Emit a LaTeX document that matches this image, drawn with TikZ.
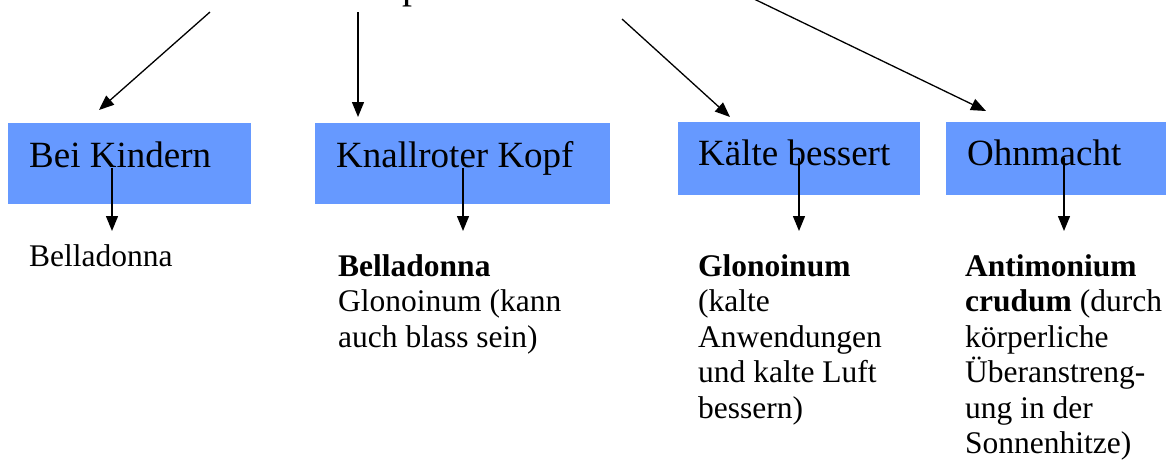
\documentclass[tikz,border=0pt]{standalone}
\usepackage{fontspec}
\setmainfont{Liberation Serif}
\usetikzlibrary{arrows.meta}
\definecolor{boxblue}{HTML}{6699FF}
\tikzset{
  box/.style={fill=boxblue, draw=none, anchor=north west, inner sep=0pt},
  boxtext/.style={anchor=base west, inner sep=0pt, font=\fontsize{37}{42}\selectfont},
  remedy/.style={anchor=base west, inner sep=0pt, align=left, font=\fontsize{31.5}{35.5}\selectfont},
  arr/.style={line width=1.3pt, -{Triangle[length=15pt,width=12pt]}},
}
\begin{document}
\begin{tikzpicture}[x=1pt,y=-1pt]
\useasboundingbox (0,0) rectangle (1176,464);
% partially visible title
\node[anchor=base west, inner sep=0pt, font=\fontsize{40}{44}\selectfont] (title) at (402,-2) {p};
% boxes
\node[box, minimum width=243pt, minimum height=81pt] (b1) at (8,123) {};
\node[box, minimum width=295pt, minimum height=81pt] (b2) at (315,123) {};
\node[box, minimum width=242pt, minimum height=73pt] (b3) at (678,122) {};
\node[box, minimum width=220pt, minimum height=73pt] (b4) at (946,122) {};
\node[boxtext] (t1) at (29,167) {Bei Kindern};
\node[boxtext] (t2) at (336,167) {Knallroter Kopf};
\node[boxtext] (t3) at (698,165) {Kälte bessert};
\node[boxtext] (t4) at (967,165) {Ohnmacht};
% top arrows
\coordinate (s1) at (210,12);
\coordinate (e1) at (99,110);
\coordinate (s2) at (358,12);
\coordinate (e2) at (358,117);
\coordinate (s3) at (622,19);
\coordinate (e3) at (730,117);
\coordinate (s4) at (752,-2);
\coordinate (e4) at (986,111);
\draw[arr] (s1) -- (e1);
\draw[arr] (s2) -- (e2);
\draw[arr] (s3) -- (e3);
\draw[arr] (s4) -- (e4);
% down arrows
\coordinate (d1a) at (112,168);
\coordinate (d1b) at (112,231);
\coordinate (d2a) at (463,168);
\coordinate (d2b) at (463,231);
\coordinate (d3a) at (799,158);
\coordinate (d3b) at (799,231);
\coordinate (d4a) at (1064,158);
\coordinate (d4b) at (1064,231);
\draw[arr] (d1a) -- (d1b);
\draw[arr] (d2a) -- (d2b);
\draw[arr] (d3a) -- (d3b);
\draw[arr] (d4a) -- (d4b);
% remedies (base anchor = baseline of last line)
\node[remedy] (r1) at (29,266) {Belladonna};
\node[remedy] (r2) at (338,347) {\textbf{Belladonna}\\Glonoinum (kann\\auch blass sein)};
\node[remedy] (r3) at (698,418) {\textbf{Glonoinum}\\(kalte\\Anwendungen\\und kalte Luft\\bessern)};
\node[remedy] (r4) at (965,453.5) {\textbf{Antimonium}\\\textbf{crudum} (durch\\körperliche\\Überanstreng-\\ung in der\\Sonnenhitze)};
\end{tikzpicture}
\end{document}
